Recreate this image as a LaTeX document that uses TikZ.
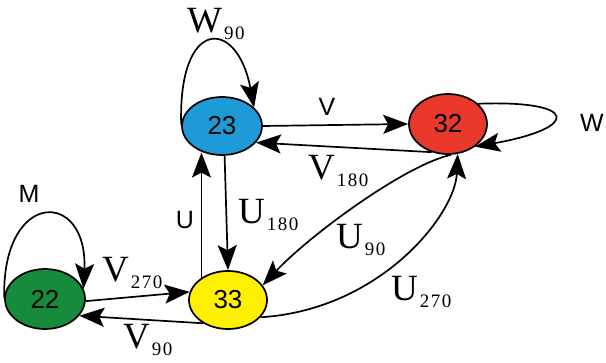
\documentclass[tikz,border=0pt]{standalone}
\usepackage{fontspec}
\setmainfont{Liberation Serif}
\setsansfont{Liberation Sans}
\usetikzlibrary{arrows.meta,shapes.geometric}
\definecolor{cblue}{RGB}{30,154,214}
\definecolor{cred}{RGB}{232,57,44}
\definecolor{cgreen}{RGB}{22,139,59}
\definecolor{cyellow}{RGB}{255,240,0}
\newcommand{\slab}[2]{{\fontsize{37}{37}\selectfont #1}\kern2pt\raisebox{-7pt}{\addfontfeatures{LetterSpace=8}\fontsize{19}{19}\selectfont #2}}
\tikzset{
  state/.style={ellipse, draw=black, line width=1.7pt, inner sep=0pt,
    font=\sffamily\fontsize{26}{26}\selectfont},
  arr/.style={line width=1.7pt, -{Stealth[length=25pt,width=19pt,inset=5pt]}},
  sanslab/.style={anchor=base, inner sep=0pt, font=\sffamily\fontsize{25}{25}\selectfont},
  serlab/.style={anchor=base west, inner sep=0pt}
}
\begin{document}
\begin{tikzpicture}[x=1pt,y=-1pt]
\useasboundingbox (0,0) rectangle (606,363);
\node[state, fill=cblue, minimum width=80pt, minimum height=58pt] (n23) at (222,126) {23};
\node[state, fill=cred, minimum width=78pt, minimum height=60pt] (n32) at (448,124) {32};
\node[state, fill=cgreen, minimum width=80pt, minimum height=60pt] (n22) at (45,299) {22};
\node[state, fill=cyellow, minimum width=78pt, minimum height=58pt] (n33) at (228,300) {33};

\draw[arr] (n23.east) -- (n32.west);
\draw[arr] (n32.-120) -- (n23.-26);
\draw[arr] (n23.178) .. controls (178,17) and (237,17) .. (n23.30);
\draw[arr] (n32.34) .. controls (580,100) and (580,128) .. (n32.-40);
\draw[arr] (n22.178) .. controls (2,189) and (88,189) .. (n22.15);
\draw[arr] (n33.140) -- (n33.140 |- n23.235);
\draw[arr] (n23.-85) -- (n33.north);
\draw[arr] (n22.-3) -- (n33.168);
\draw[arr] (n33.223) -- (n22.-26);
\draw[arr] (n32.-84) .. controls (405,165) and (310,235) .. (n33.23);
\draw[arr] (n33.-28) .. controls (380,310) and (455,215) .. (n32.-72);

\node[sanslab] (lV) at (327,116) {V};
\node[sanslab] (lW) at (592,132) {W};
\node[sanslab] (lM) at (29,203) {M};
\node[sanslab] (lU) at (185,229) {U};

\node[serlab] (lW90) at (187,33) {\slab{W}{90}};
\node[serlab] (lV180) at (308,180) {\slab{V}{180}};
\node[serlab] (lU180) at (238,224) {\slab{U}{180}};
\node[serlab] (lV270) at (102,282) {\slab{V}{270}};
\node[serlab] (lV90) at (123,349) {\slab{V}{90}};
\node[serlab] (lU90) at (336,249) {\slab{U}{90}};
\node[serlab] (lU270) at (391,301) {\slab{U}{270}};
\end{tikzpicture}
\end{document}
